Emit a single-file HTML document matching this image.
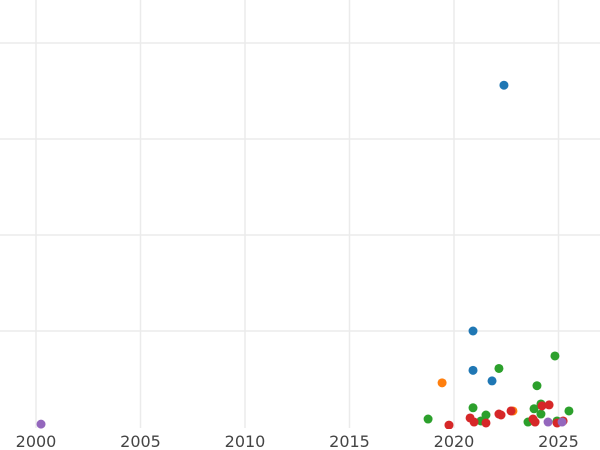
<!DOCTYPE html>
<html><head><meta charset="utf-8"><style>
body{margin:0;background:#fff;}
svg{display:block;font-family:"DejaVu Sans","Liberation Sans",sans-serif;}
</style></head><body>
<svg id="chart" width="600" height="450">
<defs><clipPath id="clip"><rect x="0" y="0" width="600" height="429"/></clipPath></defs>
<g id="grid"></g>
<g id="pts" clip-path="url(#clip)"></g>
<g id="xt"></g>
</svg>
<script>
const blueX=[2022.39,2020.91,2020.91,2021.82];
const blueY=[35.6,10,5.9,4.8];
const orangeX=[2019.43,2022.82];
const orangeY=[4.6,1.67];
const greenX=[2018.76,2022.15,2024.83,2023.97,2020.91,2021.53,2021.29,2024.16,2023.83,2024.16,2025.50,2023.54,2024.93];
const greenY=[0.83,6.1,7.4,4.3,2.0,1.25,0.63,2.4,1.9,1.35,1.67,0.52,0.63];
const redX=[2019.76,2020.77,2020.96,2021.53,2022.15,2022.25,2022.73,2023.78,2023.88,2024.21,2024.55,2024.93,2025.22];
const redY=[0.2,0.94,0.52,0.42,1.35,1.25,1.67,0.83,0.52,2.2,2.3,0.42,0.63];
const purpleX=[2000.24,2024.50,2025.17];
const purpleY=[0.3,0.52,0.52];
const xTicks=[2000,2005,2010,2015,2020,2025];
const yGrid=[10,20,30,40];
const NS="http://www.w3.org/2000/svg";
const sx=v=>36+(v-2000)*20.9;
const sy=v=>427-v*9.6;
const grid=document.getElementById('grid');
xTicks.forEach(t=>{const l=document.createElementNS(NS,'line');


l.setAttribute('x1',sx(t));l.setAttribute('x2',sx(t));l.setAttribute('y1',0);l.setAttribute('y2',428);
l.setAttribute('stroke','#ebebeb');l.setAttribute('stroke-width','1.5');grid.appendChild(l);});
yGrid.forEach(t=>{const l=document.createElementNS(NS,'line');


l.setAttribute('x1',0);l.setAttribute('x2',600);l.setAttribute('y1',sy(t));l.setAttribute('y2',sy(t));
l.setAttribute('stroke','#ebebeb');l.setAttribute('stroke-width','1.5');grid.appendChild(l);});
const xt=document.getElementById('xt');
xTicks.forEach(t=>{const tx=document.createElementNS(NS,'text');


tx.setAttribute('x',sx(t));tx.setAttribute('y',447);tx.setAttribute('text-anchor','middle');
tx.setAttribute('font-size','16');tx.setAttribute('fill','#444');tx.textContent=t;xt.appendChild(tx);});
const pts=document.getElementById('pts');
[[blueX,blueY,'#1f77b4','blue'],[orangeX,orangeY,'#ff7f0e','orange'],[greenX,greenY,'#2ca02c','green'],[redX,redY,'#d62728','red'],[purpleX,purpleY,'#9467bd','purple']].forEach(([xs,ys,c,n])=>{
xs.forEach((x,i)=>{const p=document.createElementNS(NS,'circle');


p.setAttribute('cx',sx(x));p.setAttribute('cy',sy(ys[i]));p.setAttribute('r','4.5');p.setAttribute('fill',c);pts.appendChild(p);});});
</script>
</body></html>
